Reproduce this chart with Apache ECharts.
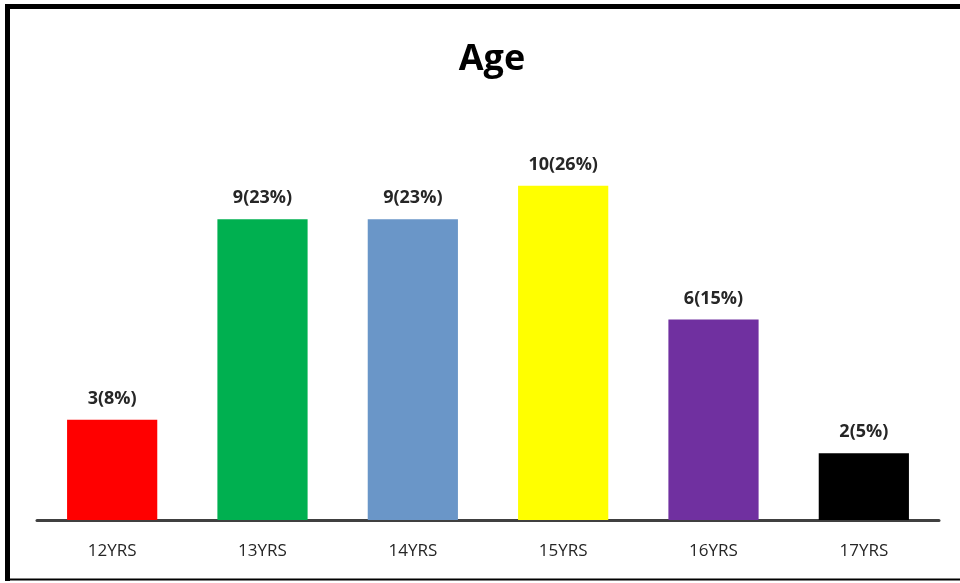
<!DOCTYPE html>
<html>
<head>
<meta charset="utf-8">
<style>
  html, body { margin: 0; padding: 0; background: #fff; }
  #chart { width: 960px; height: 583px; }
</style>
<script src="https://cdn.jsdelivr.net/npm/echarts@6/dist/echarts.min.js"></script>
</head>
<body>
<div id="chart"></div>
<script>
// Age distribution of respondents
const categories = ['12YRS', '13YRS', '14YRS', '15YRS', '16YRS', '17YRS'];
const counts = [3, 9, 9, 10, 6, 2];
const percents = [8, 23, 23, 26, 15, 5];
const barColors = ['#ff0000', '#00b050', '#6a96c8', '#ffff00', '#7030a0', '#000000'];

const chart = echarts.init(document.getElementById('chart'));

chart.setOption({
  animation: false,
  backgroundColor: '#ffffff',
  title: {
    text: 'Age',
    left: 487,
    top: 37,
    textAlign: 'center',
    textStyle: { fontFamily: 'Open Sans', fontWeight: 'bold', fontSize: 36, color: '#000' }
  },
  grid: { left: 37, right: 21, top: 119, bottom: 63 },
  xAxis: {
    type: 'category',
    data: categories,
    axisLine: { lineStyle: { color: '#404040', width: 3 } },
    axisTick: { show: false },
    axisLabel: { fontFamily: 'Open Sans', fontSize: 17, color: '#262626', margin: 23 }
  },
  yAxis: {
    type: 'value',
    min: 0,
    max: 12,
    show: false,
    splitLine: { show: false }
  },
  series: [{
    type: 'bar',
    barWidth: '60%',
    data: counts.map((v, i) => ({ value: v, itemStyle: { color: barColors[i] } })),
    label: {
      show: true,
      position: 'top',
      distance: 12,
      fontFamily: 'Open Sans',
      fontWeight: 'bold',
      fontSize: 18,
      color: '#262626',
      formatter: p => counts[p.dataIndex] + '(' + percents[p.dataIndex] + '%)'
    }
  }],
  graphic: [
    { type: 'line', shape: { x1: 7.5, y1: 4, x2: 7.5, y2: 581 }, style: { stroke: '#000', lineWidth: 5 } },
    { type: 'line', shape: { x1: 5, y1: 6.5, x2: 960, y2: 6.5 }, style: { stroke: '#000', lineWidth: 5 } },
    { type: 'line', shape: { x1: 5, y1: 579.5, x2: 960, y2: 579.5 }, style: { stroke: '#000', lineWidth: 2 } }
  ]
});
</script>
</body>
</html>
